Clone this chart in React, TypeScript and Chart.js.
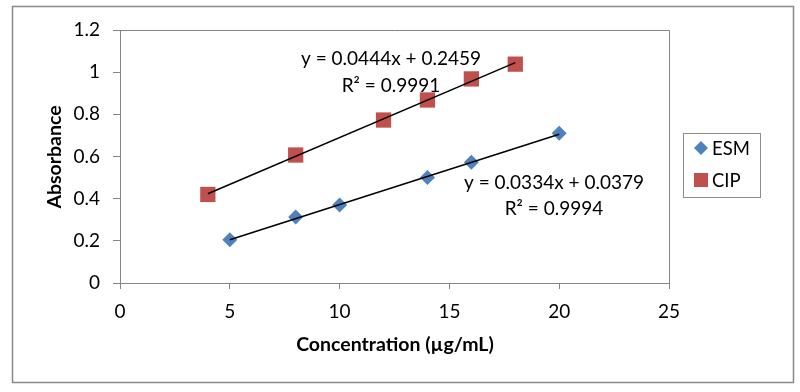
import React, { useEffect, useRef } from "react";
import { Chart, registerables } from "chart.js";

Chart.register(...registerables);

const esmX = [5, 8, 10, 14, 16, 20];
const esmY = [0.205, 0.313, 0.37, 0.5, 0.573, 0.71];
const cipX = [4, 8, 12, 14, 16, 18];
const cipY = [0.42, 0.607, 0.773, 0.868, 0.968, 1.038];
const esmTrendX = [5, 20];
const esmTrendY = [0.2049, 0.7059];
const cipTrendX = [4, 18];
const cipTrendY = [0.4235, 1.0451];
const esmEq = ["y = 0.0334x + 0.0379", "R² = 0.9994"];
const cipEq = ["y = 0.0444x + 0.2459", "R² = 0.9991"];
const xTitle = "Concentration (µg/mL)";
const yTitle = "Absorbance";
const seriesNames = ["ESM", "CIP"];

const FONT = "Lato, 'Open Sans', sans-serif";
const BLUE = "#4F81BD";
const RED = "#C0504D";
const GRAY = "#868686";

const pts = (xs: number[], ys: number[]) => xs.map((x, i) => ({ x, y: ys[i] }));

const decorPlugin = {
  id: "decor",
  beforeDraw(chart: any) {
    const ctx = chart.ctx;
    ctx.save();
    ctx.fillStyle = "#fff";
    ctx.fillRect(0, 0, chart.width, chart.height);
    ctx.strokeStyle = "#898989";
    ctx.lineWidth = 1.5;
    ctx.strokeRect(12.5, 6.5, 781, 376);
    ctx.restore();
  },
  afterDraw(chart: any) {
    const ctx = chart.ctx;
    const a = chart.chartArea;
    ctx.save();
    ctx.strokeStyle = GRAY;
    ctx.lineWidth = 1;
    ctx.beginPath();
    ctx.moveTo(a.left, a.top + 0.5);
    ctx.lineTo(a.right + 0.5, a.top + 0.5);
    ctx.lineTo(a.right + 0.5, a.bottom);
    ctx.stroke();

    ctx.fillStyle = "#000";
    ctx.font = `19px ${FONT}`;
    ctx.textAlign = "center";
    ctx.textBaseline = "middle";
    ctx.fillText(cipEq[0], 391, 59);
    ctx.fillText(cipEq[1], 391, 86);
    ctx.fillText(esmEq[0], 554, 183);
    ctx.fillText(esmEq[1], 554, 209);

    ctx.font = `bold 19.5px ${FONT}`;
    ctx.fillText(xTitle, 395, 345);
    ctx.save();
    ctx.translate(55, 157);
    ctx.rotate(-Math.PI / 2);
    ctx.fillText(yTitle, 0, 0);
    ctx.restore();

    ctx.strokeStyle = "#8c8c8c";
    ctx.lineWidth = 1;
    ctx.strokeRect(683.5, 133.5, 77, 64);
    ctx.fillStyle = BLUE;
    ctx.beginPath();
    ctx.moveTo(701, 141);
    ctx.lineTo(708, 148);
    ctx.lineTo(701, 155);
    ctx.lineTo(694, 148);
    ctx.closePath();
    ctx.fill();
    ctx.fillStyle = RED;
    ctx.fillRect(694, 173, 14, 14);
    ctx.fillStyle = "#000";
    ctx.font = `18.5px ${FONT}`;
    ctx.textAlign = "left";
    ctx.fillText(seriesNames[0], 712, 149);
    ctx.fillText(seriesNames[1], 712, 181);
    ctx.restore();
  },
};

export default function App() {
  const ref = useRef<HTMLCanvasElement>(null);
  useEffect(() => {
    document.body.style.margin = "0";
    const chart = new Chart(ref.current!, {
      type: "scatter",
      data: {
        datasets: [
          {
            label: seriesNames[0],
            data: pts(esmX, esmY),
            pointStyle: "rectRot",
            pointRadius: 7.5,
            backgroundColor: BLUE,
            borderColor: BLUE,
            borderWidth: 0,
            order: 1,
          },
          {
            label: seriesNames[1],
            data: pts(cipX, cipY),
            pointStyle: "rect",
            pointRadius: 10.8,
            backgroundColor: RED,
            borderColor: RED,
            borderWidth: 0,
            order: 1,
          },
          {
            type: "line",
            label: "esm-trend",
            data: pts(esmTrendX, esmTrendY),
            borderColor: "#000",
            borderWidth: 1.5,
            pointRadius: 0,
            fill: false,
            order: 0,
          } as any,
          {
            type: "line",
            label: "cip-trend",
            data: pts(cipTrendX, cipTrendY),
            borderColor: "#000",
            borderWidth: 1.5,
            pointRadius: 0,
            fill: false,
            order: 0,
          } as any,
        ],
      },
      options: {
        responsive: false,
        animation: false,
        layout: { padding: { top: 30, right: 131, left: 0, bottom: 0 } },
        plugins: { legend: { display: false }, tooltip: { enabled: false } },
        scales: {
          x: {
            type: "linear",
            min: 0,
            max: 25,
            ticks: { stepSize: 5, color: "#000", font: { family: FONT, size: 19 }, padding: 11 },
            grid: { drawOnChartArea: false, drawTicks: true, tickLength: 6, color: GRAY },
            border: { color: GRAY },
            afterFit: (s: any) => { s.height = 109; },
          },
          y: {
            type: "linear",
            min: 0,
            max: 1.2,
            ticks: { stepSize: 0.2, color: "#000", font: { family: FONT, size: 19 }, padding: 13,
              callback: (v: any) => String(Math.round(Number(v) * 10) / 10) },
            grid: { drawOnChartArea: false, drawTicks: true, tickLength: 7, color: GRAY },
            border: { color: GRAY },
            afterFit: (s: any) => { s.width = 120; },
          },
        },
      },
      plugins: [decorPlugin],
    });
    return () => chart.destroy();
  }, []);
  return (
    <div style={{ position: "absolute", left: 0, top: 0, width: 800, height: 392 }}>
      <canvas ref={ref} width={800} height={392} style={{ width: 800, height: 392 }} />
    </div>
  );
}
